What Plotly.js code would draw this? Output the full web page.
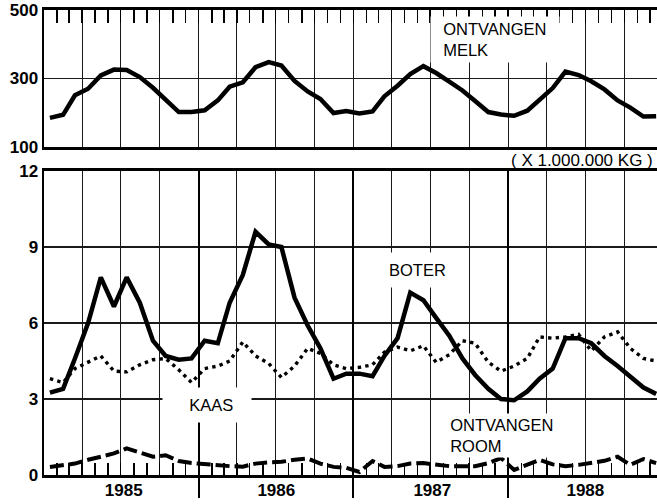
<!DOCTYPE html>
<html>
<head>
<meta charset="utf-8">
<script src="https://cdn.plot.ly/plotly-3.0.1.min.js"></script>
<style>html,body{margin:0;padding:0;background:#fff;}#chart{width:657px;height:504px;}</style>
</head>
<body>
<div id="chart"></div>
<script>
// ---- data (monthly, Jan 1985 .. Dec 1988) ----
const YEARS = ['1985', '1986', '1987', '1988'];
const MONTH_NUMS = ['01','02','03','04','05','06','07','08','09','10','11','12'];
const MONTHS = YEARS.flatMap(y => MONTH_NUMS.map(m => y + '-' + m + '-15'));

// Ontvangen melk (x 1.000.000 kg)
const MELK = [185, 194, 251, 270, 309, 326, 325, 304, 273, 240, 202, 202,
              207, 236, 276, 289, 333, 348, 338, 293, 262, 240, 199, 205,
              198, 204, 248, 279, 313, 336, 316, 291, 265, 234, 202, 195,
              191, 206, 239, 272, 320, 310, 292, 268, 236, 215, 189, 190];
// Boter
const BOTER = [3.25, 3.4, 4.6, 6.0, 7.8, 6.65, 7.8, 6.8, 5.3, 4.7, 4.55, 4.6,
               5.3, 5.2, 6.8, 7.9, 9.6, 9.1, 9.0, 7.0, 5.9, 5.0, 3.8, 4.0,
               4.0, 3.9, 4.7, 5.4, 7.2, 6.9, 6.2, 5.5, 4.6, 3.95, 3.4, 3.0,
               2.95, 3.3, 3.8, 4.2, 5.4, 5.4, 5.2, 4.7, 4.3, 3.9, 3.45, 3.2];
// Kaas
const KAAS = [3.8, 3.65, 4.2, 4.45, 4.7, 4.1, 4.07, 4.35, 4.55, 4.6, 4.15, 3.65,
              4.2, 4.3, 4.5, 5.25, 4.7, 4.4, 3.85, 4.3, 5.0, 4.8, 4.35, 4.2,
              4.25, 4.35, 4.85, 5.05, 4.9, 5.1, 4.45, 4.75, 5.3, 5.2, 4.45, 4.1,
              4.3, 4.6, 5.45, 5.4, 5.45, 5.55, 4.9, 5.45, 5.65, 5.0, 4.6, 4.5];
// Ontvangen room
const ROOM = [0.32, 0.38, 0.45, 0.6, 0.72, 0.85, 1.05, 0.9, 0.72, 0.78, 0.55, 0.47,
              0.42, 0.38, 0.35, 0.33, 0.45, 0.5, 0.52, 0.6, 0.65, 0.45, 0.32, 0.28,
              0.12, 0.55, 0.32, 0.35, 0.45, 0.47, 0.4, 0.35, 0.35, 0.35, 0.47, 0.67,
              0.2, 0.4, 0.6, 0.42, 0.35, 0.4, 0.48, 0.56, 0.72, 0.4, 0.63, 0.47];

const YEAR_BOUNDS = ['1986-01-01', '1987-01-01', '1988-01-01'];
const YEAR_LABEL_POS = ['1985-07-08', '1986-07-03', '1987-07-06', '1988-07-01'];
const TOP_TICKS = [100, 300, 500];
const X_RANGE = ['1985-01-01', '1988-12-17'];

// ---- styling ----
const FONT = 'Liberation Sans, Arial, Helvetica, sans-serif';
const BLACK = '#000';
const GRID = '#1a1a1a';

const traces = [
  {x: MONTHS, y: MELK, xaxis: 'x2', yaxis: 'y2', mode: 'lines', name: 'ONTVANGEN MELK',
   line: {color: BLACK, width: 4.5}, hoverinfo: 'skip'},
  {x: MONTHS, y: KAAS, xaxis: 'x', yaxis: 'y', mode: 'lines', name: 'KAAS',
   line: {color: BLACK, width: 3.4, dash: '3.4px,4.2px'}, hoverinfo: 'skip'},
  {x: MONTHS, y: ROOM, xaxis: 'x', yaxis: 'y', mode: 'lines', name: 'ONTVANGEN ROOM',
   line: {color: BLACK, width: 4, dash: '14px,5px'}, hoverinfo: 'skip'},
  {x: MONTHS, y: BOTER, xaxis: 'x', yaxis: 'y', mode: 'lines', name: 'BOTER',
   line: {color: BLACK, width: 4.5}, hoverinfo: 'skip'},
  {x: [], y: [], xaxis: 'x3', yaxis: 'y', mode: 'lines', showlegend: false, hoverinfo: 'skip'},
  {x: [], y: [], xaxis: 'x4', yaxis: 'y', mode: 'lines', showlegend: false, hoverinfo: 'skip'}
];

const monthAxis = (anchor, side, ticklen) => ({
  anchor: anchor, side: side, type: 'date', range: X_RANGE,
  tickmode: 'linear', tick0: '1985-01-01', dtick: 'M3',
  showgrid: true, gridcolor: GRID, gridwidth: 1.2,
  ticks: 'inside', ticklen: ticklen, tickwidth: 1.5, tickcolor: BLACK,
  minor: {tick0: '1985-01-01', dtick: 'M1', ticks: 'inside', ticklen: ticklen,
          tickwidth: 1.5, tickcolor: BLACK, showgrid: false},
  showticklabels: false, showline: true, linecolor: BLACK, linewidth: 3,
  mirror: true, zeroline: false, fixedrange: true
});

const NB = '\u00a0';
const layout = {
  width: 657, height: 504,
  margin: {l: 44, r: 0, t: 10, b: 29, pad: 0, autoexpand: false},
  paper_bgcolor: '#fff', plot_bgcolor: '#fff',
  showlegend: false,
  font: {family: FONT, color: BLACK, size: 16},
  xaxis: Object.assign(monthAxis('y', 'bottom', 12), {domain: [0, 1]}),
  xaxis2: Object.assign(monthAxis('y2', 'top', 13), {domain: [0, 1]}),
  xaxis3: {overlaying: 'x', anchor: 'y', side: 'bottom', type: 'date', range: X_RANGE,
           tickmode: 'array', tickvals: YEAR_BOUNDS, showgrid: true, gridcolor: BLACK, gridwidth: 2,
           ticks: 'outside', ticklen: 22, tickwidth: 2, tickcolor: BLACK,
           showticklabels: false, showline: false, zeroline: false, fixedrange: true},
  xaxis4: {overlaying: 'x', anchor: 'y', side: 'bottom', type: 'date', range: X_RANGE,
           tickmode: 'array', tickvals: YEAR_LABEL_POS, ticktext: YEARS,
           ticks: '', showgrid: false, showline: false, zeroline: false,
           tickfont: {family: FONT, size: 17, weight: 'bold', color: BLACK},
           ticklabelstandoff: 3, fixedrange: true},
  yaxis: {domain: [0, 0.6538], anchor: 'x', range: [0, 12], tickmode: 'linear', tick0: 0, dtick: 3,
          showgrid: true, gridcolor: GRID, gridwidth: 1.2, showline: true, linecolor: BLACK,
          linewidth: 2.5, ticks: '', zeroline: false, fixedrange: true,
          tickfont: {family: FONT, size: 17, weight: 'bold', color: BLACK}},
  yaxis2: {domain: [0.7054, 1], anchor: 'x2', range: [100, 500], tickmode: 'array', tickvals: TOP_TICKS,
           showgrid: true, gridcolor: GRID, gridwidth: 1.2, showline: true, linecolor: BLACK,
           linewidth: 2.5, ticks: '', zeroline: false, fixedrange: true,
           tickfont: {family: FONT, size: 17, weight: 'bold', color: BLACK}},
  annotations: [
    {xref: 'paper', yref: 'paper', x: 0.6297, y: 0.9376, xanchor: 'left', yanchor: 'middle',
     text: NB + NB + 'ONTVANGEN<br>' + NB + NB + 'MELK', align: 'left', showarrow: false,
     width: 122, bgcolor: '#fff', borderpad: 3, font: {family: FONT, size: 16.5, color: BLACK}},
    {xref: 'paper', yref: 'paper', x: 0.610, y: 0.4409, xanchor: 'center', yanchor: 'middle',
     text: 'BOTER', showarrow: false, bgcolor: '#fff', borderpad: 8,
     font: {family: FONT, size: 16.5, color: BLACK}},
    {xref: 'paper', yref: 'paper', x: 0.2651, y: 0.1505, xanchor: 'center', yanchor: 'middle',
     text: NB + NB + NB + NB + 'KAAS' + NB + NB, showarrow: false, bgcolor: '#fff', borderpad: 8,
     font: {family: FONT, size: 16.5, color: BLACK}},
    {xref: 'paper', yref: 'paper', x: 0.6427, y: 0.0839, xanchor: 'left', yanchor: 'middle',
     text: NB + NB + 'ONTVANGEN<br>' + NB + NB + 'ROOM', align: 'left', showarrow: false,
     width: 118, bgcolor: '#fff', borderpad: 2, font: {family: FONT, size: 16.5, color: BLACK}},
    {xref: 'paper', yref: 'paper', x: 0.9967, y: 0.6774, xanchor: 'right', yanchor: 'middle',
     text: '( X 1.000.000 KG )', showarrow: false,
     font: {family: FONT, size: 17, color: BLACK}}
  ]
};

Plotly.newPlot('chart', traces, layout, {staticPlot: true, displayModeBar: false});
</script>
</body>
</html>
